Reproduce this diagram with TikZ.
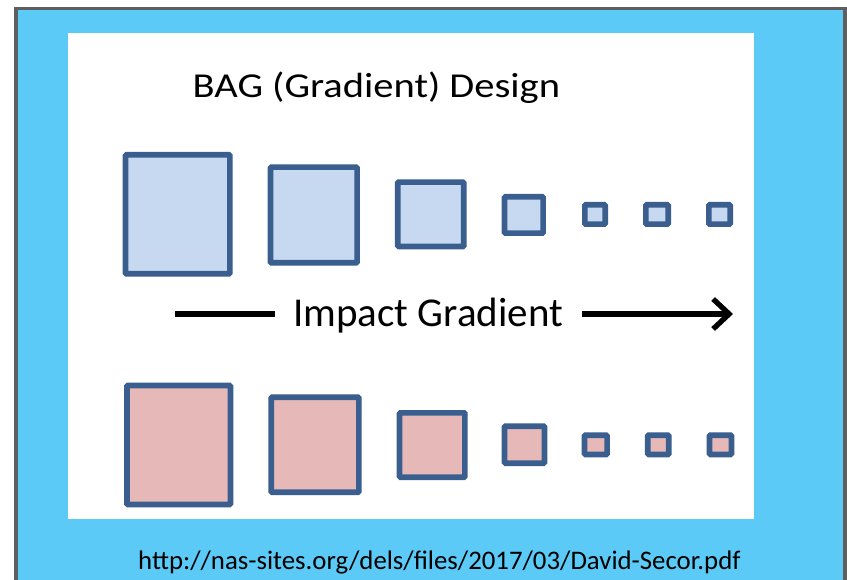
\documentclass[tikz,border=0pt]{standalone}
\usepackage{fontspec}
\usepackage{graphicx}
\setmainfont{Carlito}
\usetikzlibrary{arrows.meta}
\definecolor{bgblue}{HTML}{5BCAF6}
\definecolor{frame}{HTML}{5E5E5E}
\definecolor{sqedge}{HTML}{3A5F8F}
\definecolor{topfill}{HTML}{C6D9F1}
\definecolor{botfill}{HTML}{E6B9B8}
\tikzset{
  sqbox/.style={draw=sqedge, line width=5.7pt, rounded corners=1pt, inner sep=0pt, outer sep=0pt},
  topbox/.style={sqbox, fill=topfill},
  botbox/.style={sqbox, fill=botfill},
  gradline/.style={line width=5.3pt, black}
}
\begin{document}
\begin{tikzpicture}[x=1pt,y=-1pt]
\useasboundingbox (0,0) rectangle (847,580);
\fill[white] (0,0) rectangle (847,580);
\draw[frame, line width=3.5pt, fill=bgblue] (15.8,8.7) rectangle (845,600);
\fill[white] (68,33) rectangle (754,519);
\node[anchor=base west, font=\fontsize{35}{42}\selectfont, inner sep=0pt] (title) at (192.5,97.5) {\scalebox{1.158}[1]{BAG (Gradient) Design}};
% top row
\node[topbox, minimum width=104.3pt, minimum height=119pt] (t1) at (177.7,214.3) {};
\node[topbox, minimum width=86.6pt, minimum height=95.7pt] (t2) at (313.8,215) {};
\node[topbox, minimum width=66pt, minimum height=64.3pt] (t3) at (430.8,214.3) {};
\node[topbox, minimum width=38.6pt, minimum height=36.3pt] (t4) at (523.8,215) {};
\node[topbox, minimum width=20.3pt, minimum height=19.3pt] (t5) at (595,214.5) {};
\node[topbox, minimum width=22.3pt, minimum height=19.3pt] (t6) at (657,214.5) {};
\node[topbox, minimum width=21.3pt, minimum height=19.3pt] (t7) at (719.5,214.5) {};
% bottom row
\node[botbox, minimum width=103.6pt, minimum height=118.9pt] (b1) at (178.7,445) {};
\node[botbox, minimum width=87.7pt, minimum height=95pt] (b2) at (315,444.7) {};
\node[botbox, minimum width=65.3pt, minimum height=64.3pt] (b3) at (432.2,445) {};
\node[botbox, minimum width=40pt, minimum height=37pt] (b4) at (524.5,444.7) {};
\node[botbox, minimum width=22.6pt, minimum height=19.3pt] (b5) at (595.8,444.8) {};
\node[botbox, minimum width=21pt, minimum height=19.3pt] (b6) at (658.3,444.8) {};
\node[botbox, minimum width=22pt, minimum height=19.3pt] (b7) at (720.5,444.8) {};
% impact gradient
\node[anchor=base west, font=\fontsize{41}{48}\selectfont, inner sep=0pt] (imp) at (293,327) {Impact Gradient};
\coordinate (aL) at (175,314);
\coordinate (aM) at (275,314);
\coordinate (aS) at (582,314);
\coordinate (aE) at (733,314);
\draw[gradline] (aL) -- (aM);
\draw[gradline, -{Straight Barb[length=16pt,width=30pt]}] (aS) -- (aE);
% source
\node[anchor=base west, font=\fontsize{26.8}{32}\selectfont, inner sep=0pt] (src) at (138,569) {http://nas-sites.org/dels/files/2017/03/David-Secor.pdf};
\end{tikzpicture}
\end{document}
